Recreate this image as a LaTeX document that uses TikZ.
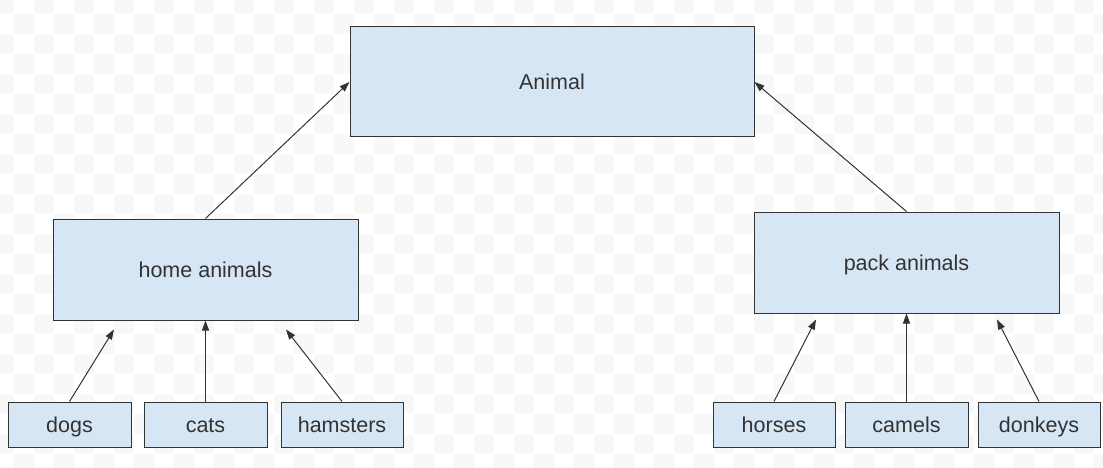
\documentclass[tikz,border=0pt]{standalone}
\usepackage{fontspec}
\setmainfont{Liberation Sans}
\usetikzlibrary{arrows.meta,calc}
\definecolor{boxfill}{HTML}{D7E6F5}
\definecolor{boxline}{HTML}{333333}
\definecolor{txt}{HTML}{333333}
\definecolor{checker}{HTML}{F8F8F8}
\tikzset{
  box/.style={draw=boxline, line width=1pt, fill=boxfill, text=txt, inner sep=0pt,
    text height=15.4pt, text depth=0pt,
    font=\fontsize{21.5}{26}\selectfont},
  conn/.style={draw=boxline, line width=1pt, -{Triangle[length=10pt,width=7pt]}}
}
\begin{document}
\begin{tikzpicture}[x=1pt,y=-1pt]
\useasboundingbox (0,0) rectangle (1103,468);
\fill[white] (0,0) rectangle (1103,468);
\begin{scope}
\clip (0,0) rectangle (1103,468);
\foreach \a in {0,...,55}{
  \foreach \b in {0,...,23}{
    \pgfmathtruncatemacro\cpar{mod(\a+\b,2)}
    \ifnum\cpar=0 \fill[checker] (20*\a-6,20*\b-6) rectangle +(20,20);\fi
  }
}
\end{scope}
% nodes
\node[box, minimum width=404pt, minimum height=110pt] (animal) at (552,82) {Animal};
\node[box, minimum width=305pt, minimum height=101pt] (home) at (205.5,269.5) {home animals};
\node[box, minimum width=305pt, minimum height=101pt] (pack) at (906.5,262.5) {pack animals};
\node[box, minimum width=123pt, minimum height=45pt] (dogs) at (69.5,424.5) {dogs};
\node[box, minimum width=123pt, minimum height=45pt] (cats) at (205.5,424.5) {cats};
\node[box, minimum width=122pt, minimum height=45pt] (hamsters) at (342,424.5) {hamsters};
\node[box, minimum width=122pt, minimum height=45pt] (horses) at (774,424.5) {horses};
\node[box, minimum width=123pt, minimum height=45pt] (camels) at (906.5,424.5) {camels};
\node[box, minimum width=122pt, minimum height=45pt] (donkeys) at (1039,424.5) {donkeys};
% arrow tips
\coordinate (hd) at ($(home.south)+(-91.5,9)$);
\coordinate (hh) at ($(home.south)+(80.5,9)$);
\coordinate (pho) at ($(pack.south)+(-90.5,6)$);
\coordinate (pdo) at ($(pack.south)+(90.5,6)$);
% connectors
\draw[conn] (home.north) -- (animal.west);
\draw[conn] (pack.north) -- (animal.east);
\draw[conn] (dogs.north) -- (hd);
\draw[conn] (cats.north) -- (home.south);
\draw[conn] (hamsters.north) -- (hh);
\draw[conn] (horses.north) -- (pho);
\draw[conn] (camels.north) -- (pack.south);
\draw[conn] (donkeys.north) -- (pdo);
\end{tikzpicture}
\end{document}
